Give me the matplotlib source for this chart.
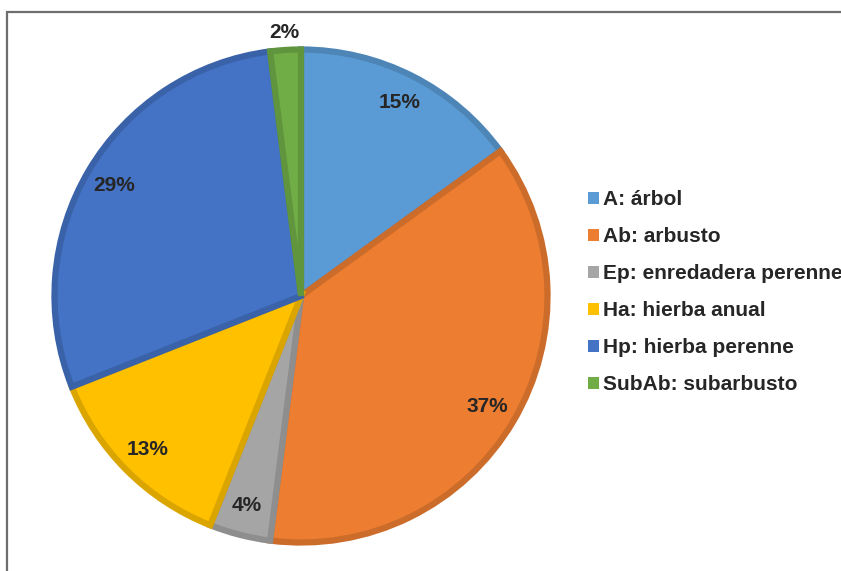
import numpy as np
import matplotlib.pyplot as plt
from matplotlib.colors import to_rgb
from matplotlib.patches import Patch, Rectangle

plt.rcParams['font.family'] = ['Liberation Sans', 'DejaVu Sans']
plt.rcParams['font.weight'] = 'bold'

# life forms, share of species (%)
labels = ["A: árbol", "Ab: arbusto", "Ep: enredadera perenne",
          "Ha: hierba anual", "Hp: hierba perenne", "SubAb: subarbusto"]
shares = [15, 37, 4, 13, 29, 2]
colors = ["#5B9BD5", "#ED7D31", "#A5A5A5", "#FFC000", "#4472C4", "#70AD47"]

W, H = 841, 571
fig = plt.figure(figsize=(W / 100, H / 100), dpi=100)

# pie centre and radius in pixels
cx, cy, r = 301, 571 - 296, 249
lim = 1.2
ax = fig.add_axes([(cx - lim * r) / W, (cy - lim * r) / H,
                   2 * lim * r / W, 2 * lim * r / H])

edges = [tuple(c * 0.86 for c in to_rgb(col)) for col in colors]
wedges, _ = ax.pie(shares, colors=colors, startangle=90, counterclock=False,
                   radius=0.99, wedgeprops=dict(linewidth=4.5))
for w, ec in zip(wedges, edges):
    w.set_edgecolor(ec)
    w.set_joinstyle('miter')
ax.set_xlim(-lim, lim)
ax.set_ylim(-lim, lim)
ax.set_aspect('equal')

# percentage labels
start = 90.0
for s in shares:
    mid = np.deg2rad(start - s * 3.6 / 2)
    dist = 1.06 if s < 3 else 0.87
    ax.text(dist * np.cos(mid), dist * np.sin(mid), f"{s}%",
            ha='center', va='center', fontsize=15, fontweight='bold',
            color='#262626')
    start -= s * 3.6

handles = [Patch(facecolor=c, edgecolor='none') for c in colors]
fig.legend(handles, labels, loc='upper left',
           bbox_to_anchor=(578 / W, 1 - 180 / H), frameon=False,
           fontsize=15, handlelength=0.5, handleheight=0.5,
           handletextpad=0.2, labelspacing=0.86, borderpad=0,
           labelcolor='#262626')

# chart area border (only top and left fall inside the image)
fig.patches.append(Rectangle((7 / W, -0.1), 1.2, 1 - 12 / H + 0.1,
                             transform=fig.transFigure, fill=False,
                             edgecolor='#6e6e6e', linewidth=1.6))

fig.savefig("out.png", dpi=100)
